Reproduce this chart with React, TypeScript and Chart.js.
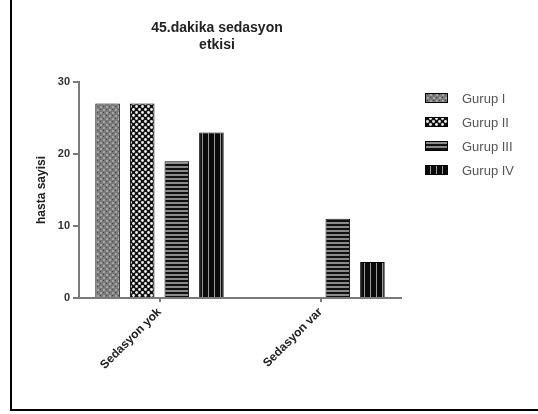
import React, { useEffect, useRef } from 'react';
import { Chart, registerables } from 'chart.js';

Chart.register(...registerables);

const categories = ['Sedasyon yok', 'Sedasyon var'];
const groupLabels = ['Gurup I', 'Gurup II', 'Gurup III', 'Gurup IV'];
const gurup1 = [27, 0];
const gurup2 = [27, 0];
const gurup3 = [19, 11];
const gurup4 = [23, 5];
const yTicks = [0, 10, 20, 30];
const titleLines = ['45.dakika sedasyon', 'etkisi'];
const yTitle = 'hasta sayisi';

const FONT = '"Liberation Sans", Arial, sans-serif';

function makePattern(kind: number): CanvasPattern | string {
  const c = document.createElement('canvas');
  const ctx = c.getContext('2d');
  if (!ctx) return '#000';
  if (kind === 0) {
    c.width = 6; c.height = 6;
    ctx.fillStyle = '#7a7a7a';
    ctx.fillRect(0, 0, 6, 6);
    ctx.fillStyle = '#a5a5a5';
    ctx.fillRect(1, 1, 2, 2);
    ctx.fillRect(4, 4, 2, 2);
    ctx.fillStyle = '#444';
    ctx.fillRect(4, 1, 1, 1);
    ctx.fillRect(1, 4, 1, 1);
  } else if (kind === 1) {
    c.width = 6; c.height = 6;
    ctx.fillStyle = '#111';
    ctx.fillRect(0, 0, 6, 6);
    ctx.fillStyle = '#f0f0f0';
    ctx.beginPath(); ctx.arc(1.5, 1.5, 1.4, 0, Math.PI * 2); ctx.fill();
    ctx.beginPath(); ctx.arc(4.5, 4.5, 1.4, 0, Math.PI * 2); ctx.fill();
  } else if (kind === 2) {
    c.width = 4; c.height = 4;
    ctx.fillStyle = '#111';
    ctx.fillRect(0, 0, 4, 4);
    ctx.fillStyle = '#8a8a8a';
    ctx.fillRect(0, 2, 4, 2);
  } else {
    c.width = 6; c.height = 6;
    ctx.fillStyle = '#0a0a0a';
    ctx.fillRect(0, 0, 6, 6);
    ctx.fillStyle = '#9a9a9a';
    ctx.fillRect(4, 0, 1, 6);
  }
  return ctx.createPattern(c, 'repeat') || '#000';
}

const annotationsPlugin = {
  id: 'customText',
  afterDraw(chart: any) {
    const ctx = chart.ctx as CanvasRenderingContext2D;
    ctx.save();
    // title
    ctx.fillStyle = '#222';
    ctx.font = `bold 14px ${FONT}`;
    ctx.textAlign = 'center';
    ctx.textBaseline = 'middle';
    titleLines.forEach((t, i) => ctx.fillText(t, 217, 28 + i * 17));
    // legend
    const items = chart.data.datasets;
    ctx.font = `13px ${FONT}`;
    ctx.textAlign = 'left';
    items.forEach((ds: any, i: number) => {
      const cy = 98 + i * 24;
      ctx.fillStyle = ds.backgroundColor;
      ctx.fillRect(425, cy - 5, 23, 10);
      ctx.strokeStyle = '#000';
      ctx.lineWidth = 1;
      ctx.strokeRect(425.5, cy - 4.5, 22, 9);
      ctx.fillStyle = '#555';
      ctx.fillText(ds.label, 462, cy + 1);
    });
    ctx.restore();
  },
};

export default function App() {
  const ref = useRef<HTMLCanvasElement | null>(null);
  useEffect(() => {
    document.body.style.margin = '0';
    if (!ref.current) return;
    const series = [gurup1, gurup2, gurup3, gurup4];
    const chart = new Chart(ref.current, {
      type: 'bar',
      data: {
        labels: categories,
        datasets: series.map((d, i) => ({
          label: groupLabels[i],
          data: d,
          backgroundColor: makePattern(i) as any,
          borderColor: '#000',
          borderWidth: 1,
          categoryPercentage: 0.86,
          barPercentage: 0.71,
        })),
      },
      options: {
        animation: false,
        responsive: false,
        devicePixelRatio: 1,
        layout: { padding: { top: 82, right: 137, left: 0, bottom: 0 } },
        plugins: { legend: { display: false }, title: { display: false }, tooltip: { enabled: false } },
        scales: {
          x: {
            border: { color: '#7a7a7a', width: 2 },
            grid: { drawOnChartArea: false, drawTicks: true, tickLength: 4, offset: false, color: '#7a7a7a', lineWidth: 2 },
            ticks: {
              minRotation: 45, maxRotation: 45, padding: 3,
              color: '#222', font: { family: FONT, size: 12, weight: 'bold' },
            },
            afterFit: (s: any) => { s.height = 116; },
          },
          y: {
            min: 0, max: 30,
            border: { color: '#7a7a7a', width: 2 },
            grid: { drawOnChartArea: false, drawTicks: true, tickLength: 6, color: '#7a7a7a', lineWidth: 2 },
            afterBuildTicks: (s: any) => { s.ticks = yTicks.map((v) => ({ value: v })); },
            ticks: { padding: 3, color: '#333', font: { family: FONT, size: 11, weight: 'bold' } },
            title: {
              display: true, text: yTitle, color: '#222',
              font: { family: FONT, size: 12, weight: 'bold' },
              padding: { top: 34, bottom: 0 },
            },
            afterFit: (s: any) => { s.width = 79; },
          },
        },
      },
      plugins: [annotationsPlugin],
    });
    return () => chart.destroy();
  }, []);
  return (
    <div style={{ position: 'relative', width: 538, height: 414, background: '#fff' }}>
      <canvas ref={ref} width={538} height={414} style={{ position: 'absolute', left: 0, top: 0 }} />
      <div style={{ position: 'absolute', left: 10, top: 0, width: 528, height: 411, boxSizing: 'border-box', borderLeft: '2px solid #000', borderBottom: '2px solid #000', pointerEvents: 'none' }} />
    </div>
  );
}
